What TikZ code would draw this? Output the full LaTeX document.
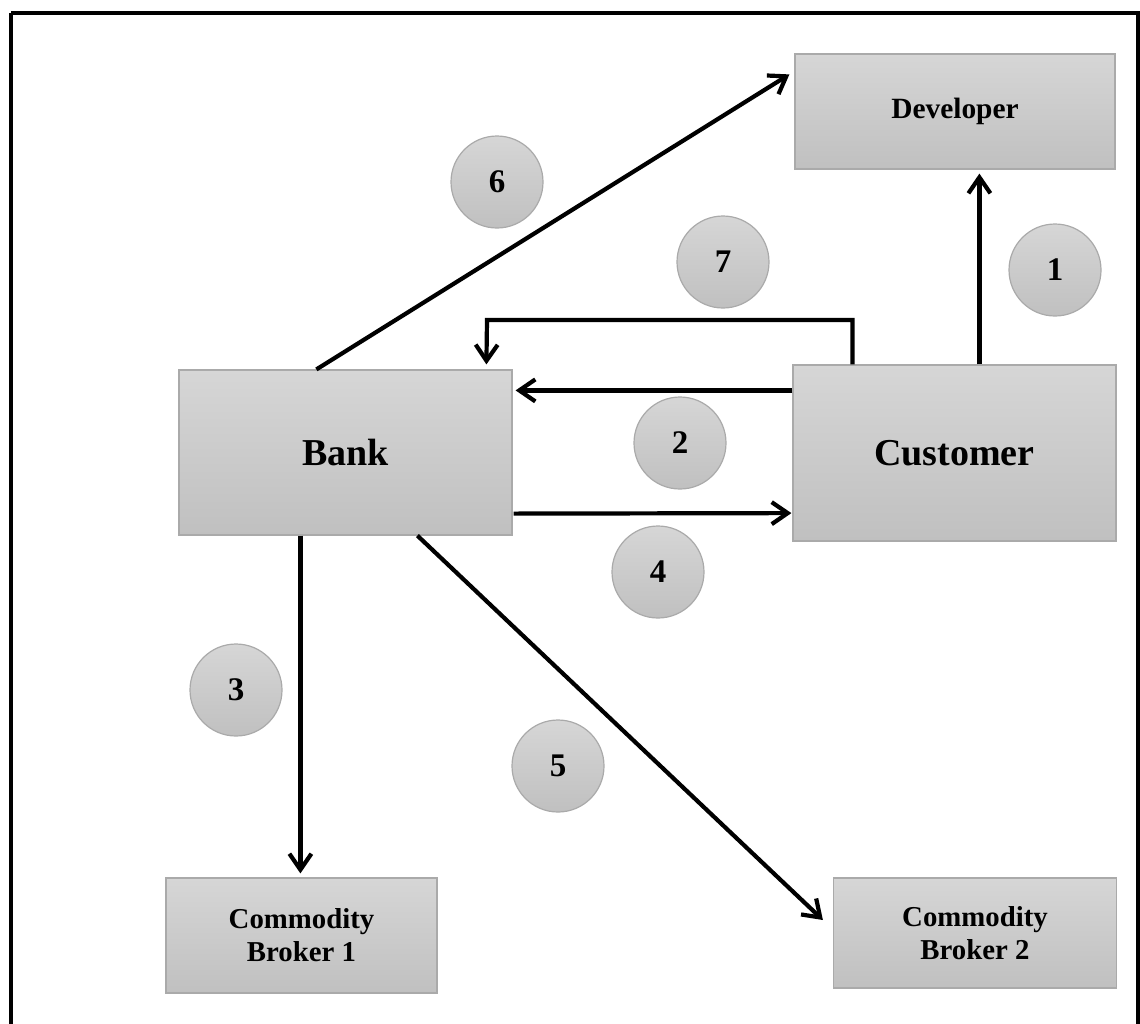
\documentclass[tikz,border=0pt]{standalone}
\usepackage{fontspec}
\setmainfont{Liberation Serif}
\usetikzlibrary{arrows.meta,calc}
\definecolor{boxtop}{RGB}{214,214,214}
\definecolor{boxbot}{RGB}{192,192,192}
\definecolor{boxedge}{RGB}{170,170,170}
\tikzset{
  fillbox/.style={rectangle, draw=boxedge, line width=0.6pt, top color=boxtop, bottom color=boxbot, font=\bfseries, align=center, inner sep=0pt},
  stepnum/.style={circle, draw=boxedge, line width=0.6pt, top color=boxtop, bottom color=boxbot, minimum size=46pt, inner sep=0pt, font=\bfseries\fontsize{16.5}{18}\selectfont},
  arr/.style={line width=2.1pt, -{Straight Barb[length=8pt,width=11pt,line width=2.1pt]}}
}
\begin{document}
\begin{tikzpicture}[x=0.5pt,y=-0.5pt]
\useasboundingbox (0,0) rectangle (1140,1023);
\draw[line width=2pt] (11,12.5) -- (1138,12.5) -- (1138,1024) (11,12.5) -- (11,1024);

\node[fillbox, minimum width=160pt, minimum height=57.5pt, font=\bfseries\fontsize{14.7}{16}\selectfont] (dev) at (955,111.5) {Developer};
\node[fillbox, minimum width=166.5pt, minimum height=82.5pt, font=\bfseries\fontsize{19}{22}\selectfont] (bank) at (345.5,452.5) {Bank};
\node[fillbox, minimum width=161.5pt, minimum height=88pt, font=\bfseries\fontsize{19}{22}\selectfont] (cust) at (954.5,453) {Customer};
\node[fillbox, minimum width=135.5pt, minimum height=57.5pt, font=\bfseries\fontsize{14.4}{16.5}\selectfont] (cb1) at (301.5,935.5) {Commodity\\Broker 1};
\node[fillbox, minimum width=141.5pt, minimum height=55pt, font=\bfseries\fontsize{14.4}{16.5}\selectfont] (cb2) at (975,933) {Commodity\\Broker 2};

\node[stepnum] (n6) at (497,182) {6};
\node[stepnum] (n7) at (723,262) {7};
\node[stepnum] (n1) at (1055,270) {1};
\node[stepnum] (n2) at (680,443) {2};
\node[stepnum] (n4) at (658,572) {4};
\node[stepnum] (n3) at (236,690) {3};
\node[stepnum] (n5) at (558,766) {5};

\coordinate (k7) at (487,320);

\draw[arr] ($(bank.north west)+(138,0)$) -- ($(dev.north west)+(-5,21)$);
\draw[arr] ($(cust.north west)+(187,0)$) -- ($(dev.south west)+(185,4)$);
\draw[arr] ($(cust.north west)+(60,0)$) |- (k7) -- ($(bank.north west)+(308,-5)$);
\draw[arr] ($(cust.north west)+(0,26)$) -- ($(bank.north east)+(3,21)$);
\draw[arr] ($(bank.south east)+(1,-22)$) -- ($(cust.south west)+(-1,-28.5)$);
\draw[arr] ($(bank.south west)+(122,0)$) -- ($(cb1.north west)+(135,-4)$);
\draw[arr] ($(bank.south west)+(239,0)$) -- ($(cb2.west)+(-10,-13)$);
\end{tikzpicture}
\end{document}
